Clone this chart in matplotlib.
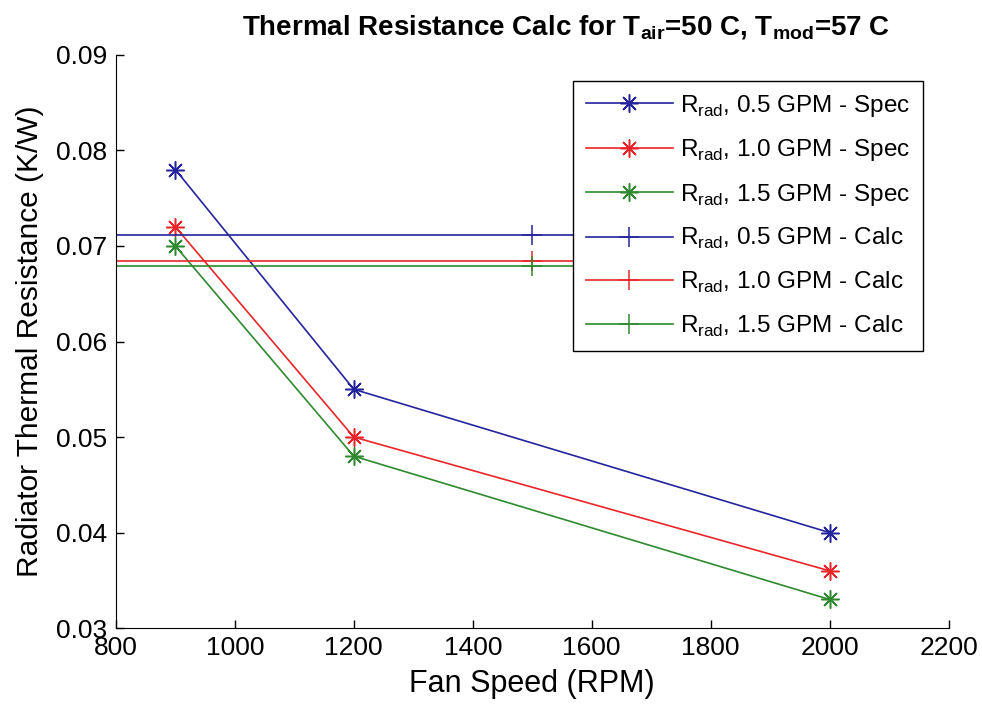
import matplotlib
matplotlib.use('Agg')
import matplotlib.pyplot as plt

# ── Data ──────────────────────────────────────────────────────────────────────
FAN_RPM = [900, 1200, 2000]
SPEC_05 = [0.078, 0.055, 0.040]
SPEC_10 = [0.072, 0.050, 0.036]
SPEC_15 = [0.070, 0.048, 0.033]

CALC_RPM = [800, 1500, 2000]
CALC_05 = [0.0711, 0.0711, 0.0711]
CALC_10 = [0.0684, 0.0684, 0.0684]
CALC_15 = [0.0679, 0.0679, 0.0679]

X_TICKS = [800, 1000, 1200, 1400, 1600, 1800, 2000, 2200]
Y_TICKS = [0.03, 0.04, 0.05, 0.06, 0.07, 0.08, 0.09]

BLUE = '#24249c'
RED = '#e8262a'
GREEN = '#2f8a2f'

NARROW = ['Liberation Sans Narrow', 'Liberation Sans', 'DejaVu Sans']
REGULAR = ['Liberation Sans', 'DejaVu Sans']

fig = plt.figure(figsize=(9.82, 7.13), dpi=100)
ax = fig.add_axes([0.118, 0.119, 0.848, 0.804])

asterisk = (8, 2, 0)
spec = [(SPEC_05, BLUE, '0.5'), (SPEC_10, RED, '1.0'), (SPEC_15, GREEN, '1.5')]
calc = [(CALC_05, BLUE, '0.5'), (CALC_10, RED, '1.0'), (CALC_15, GREEN, '1.5')]

for vals, col, gpm in spec:
    ax.plot(FAN_RPM, vals, color=col, lw=1.2, marker=asterisk, ms=13,
            mew=1.1, label=r'R$_{\mathregular{rad}}$, ' + f'{gpm} GPM - Spec')
# calc lines only show the marker at the middle point
for vals, col, gpm in calc:
    ax.plot(CALC_RPM, vals, color=col, lw=1.2, marker='+', ms=15,
            mew=1.1, markevery=[1],
            label=r'R$_{\mathregular{rad}}$, ' + f'{gpm} GPM - Calc')

ax.set_xlim(800, 2200)
ax.set_ylim(0.03, 0.09)
ax.set_xticks(X_TICKS)
ax.set_yticks(Y_TICKS)
ax.set_xticklabels([str(v) for v in X_TICKS], family=NARROW, fontsize=19)
ax.set_yticklabels([f'{v:.2f}' for v in Y_TICKS], family=REGULAR, fontsize=19)
ax.tick_params(direction='in', length=6, width=1, pad=6)

ax.spines['top'].set_visible(False)
ax.spines['right'].set_visible(False)

ax.set_xlabel('Fan Speed (RPM)', family=NARROW, fontsize=22, labelpad=6)
ax.set_ylabel('Radiator Thermal Resistance (K/W)', family=NARROW,
              fontsize=21.5, labelpad=9)
ax.set_title(r'Thermal Resistance Calc for T$_{\mathregular{air}}$=50 C, '
             r'T$_{\mathregular{mod}}$=57 C',
             family=NARROW, fontsize=20, fontweight='bold', pad=14, x=0.54)

leg = ax.legend(loc='upper right', bbox_to_anchor=(0.969, 0.955),
                prop={'family': REGULAR, 'size': 17.5}, fancybox=False,
                edgecolor='black', framealpha=1, handlelength=3.6,
                borderpad=0.5, labelspacing=0.76, handletextpad=0.3,
                borderaxespad=0.0)
leg.get_frame().set_linewidth(1.0)

fig.savefig('out.png', dpi=100)
